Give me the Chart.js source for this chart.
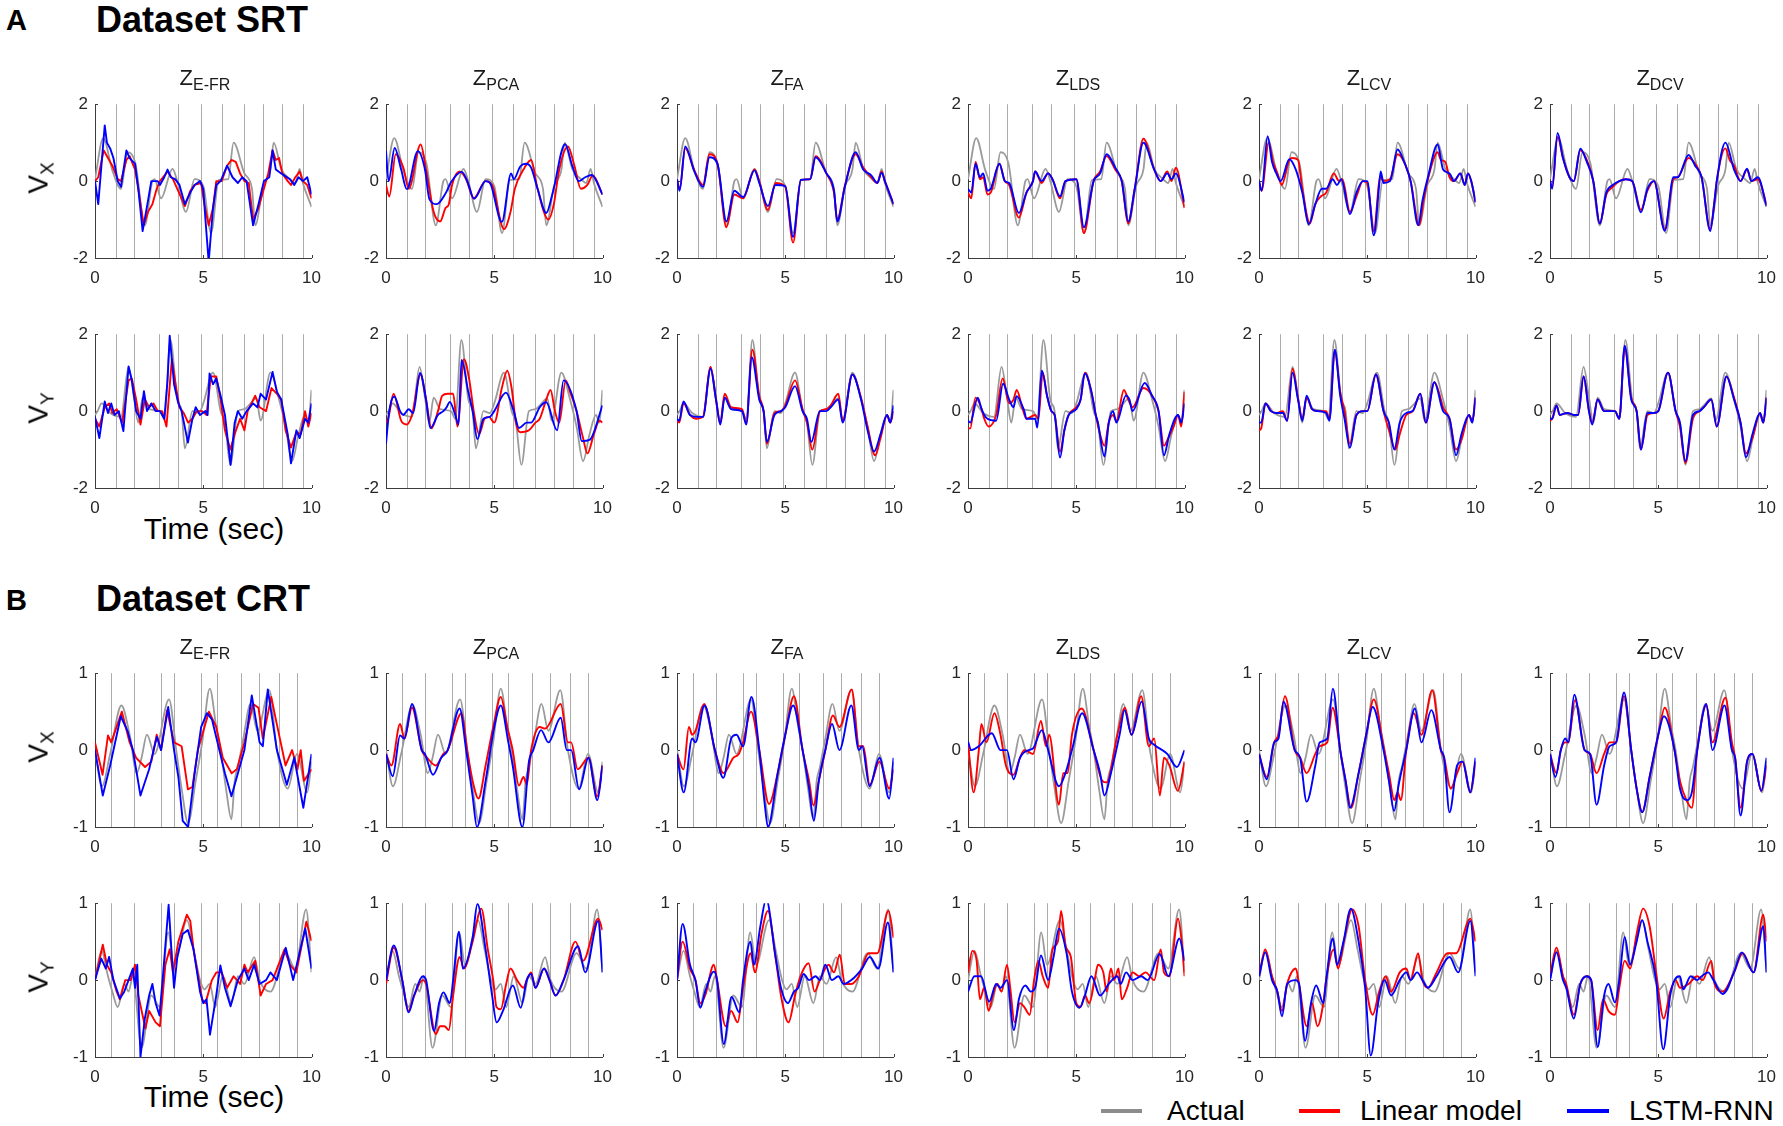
<!DOCTYPE html>
<html lang="en">
<head>
<meta charset="UTF-8">
<title>Velocity decoding SRT / CRT</title>
<script src="https://cdn.jsdelivr.net/npm/chart.js"></script>
<style>
    body {
        margin: 0;
        width: 1783px;
        height: 1126px;
        position: relative;
        overflow: hidden;
        background: #fff;
        font-family: "Liberation Sans", Arial, Helvetica, sans-serif;
        color: #000;
    }
    .box { position: absolute; }
    .letter { position: absolute; font-size: 29px; font-weight: bold; line-height: 29px; }
    .dset { position: absolute; font-size: 36px; font-weight: bold; line-height: 36px; }
    .ttl { position: absolute; font-size: 22px; line-height: 22px; white-space: nowrap; transform: translateX(-50%); color: #1a1a1a; }
    .ttl .sb { font-size: 16px; position: relative; top: 5px; }
    .vlab { position: absolute; font-size: 28px; line-height: 28px; white-space: nowrap; transform: translate(-50%, -50%) rotate(-90deg); }
    .vlab .sb { font-size: 19px; position: relative; top: 6px; }
    .tlab { position: absolute; font-size: 30px; line-height: 30px; white-space: nowrap; transform: translate(-50%, -50%); }
    .leg { position: absolute; font-size: 28px; line-height: 28px; white-space: nowrap; }
    .sw { position: absolute; height: 4px; }
</style>
</head>
<body>
<div class="letter" style="left:6px; top:6px;">A</div>
<div class="dset" style="left:96px; top:2px;">Dataset SRT</div>
<div class="letter" style="left:6px; top:586px;">B</div>
<div class="dset" style="left:96px; top:581px;">Dataset CRT</div>
<div class="tlab" style="left:214px; top:529px;">Time (sec)</div>
<div class="tlab" style="left:214px; top:1097px;">Time (sec)</div>

<div class="sw" style="left:1101px; top:1109px; width:41px; background:#8c8c8c;"></div>
<div class="leg" style="left:1167px; top:1097px;">Actual</div>
<div class="sw" style="left:1299px; top:1109px; width:41px; background:#ff0000;"></div>
<div class="leg" style="left:1360px; top:1097px;">Linear model</div>
<div class="sw" style="left:1567px; top:1109px; width:42px; background:#0000ff;"></div>
<div class="leg" style="left:1629px; top:1097px;">LSTM-RNN</div>

<script>
    // latent-state methods, one column each
    const methods = ['E-FR', 'PCA', 'FA', 'LDS', 'LCV', 'DCV'];

    // trial boundaries (sec)
    const srtBounds = [0.97, 1.8, 2.95, 3.83, 4.88, 5.85, 6.87, 7.75, 8.63, 9.6];
    const crtBounds = [0.72, 1.8, 3.03, 3.64, 4.88, 5.65, 6.75, 7.58, 8.48, 9.32];

    // ---- Dataset SRT, V_X  ([time, value])
    const srtVxActual = [[0,0.05],[0.38,1.12],[0.8,0.28],[1.2,-0.2],[1.5,0.75],[1.87,0.45],[2.3,-1.15],[2.65,0.0],[2.75,0.05],[3.05,-0.45],[3.58,0.32],[3.8,0.0],[4.2,-0.8],[4.6,0.05],[5.0,-0.13],[5.36,-1.35],[5.72,0.03],[6.15,0.05],[6.4,1.0],[6.9,0.2],[7.25,-0.2],[7.4,-1.15],[7.76,-0.13],[8.1,0.3],[8.25,1.0],[8.6,0.32],[8.97,0.07],[9.25,-0.05],[9.45,0.32],[9.6,-0.05],[10,-0.67]];
    const srtVxLinear = [
        // E-FR
        [[0,0],[0.15,0.1],[0.4,0.8],[0.6,0.6],[0.8,0.4],[1.05,0.05],[1.2,0.0],[1.45,0.55],[1.6,0.65],[1.85,0.3],[2.0,-0.2],[2.25,-1.15],[2.45,-0.8],[2.65,-0.6],[2.85,-0.2],[3.0,0.0],[3.35,0.25],[3.6,0.05],[3.8,-0.2],[4.15,-0.65],[4.4,-0.25],[4.6,-0.1],[4.9,-0.05],[5.05,-0.6],[5.25,-1.15],[5.45,-0.7],[5.6,0.0],[5.85,0.0],[6.1,0.4],[6.3,0.55],[6.5,0.5],[6.7,0.2],[6.9,0.0],[7.1,-0.05],[7.3,-1.0],[7.55,-0.7],[7.8,-0.2],[8.0,0.2],[8.2,0.8],[8.35,0.55],[8.5,0.6],[8.65,0.2],[8.9,0.0],[9.05,-0.1],[9.25,0.1],[9.45,0.25],[9.6,0.0],[9.8,-0.1],[10,-0.45]],
        // PCA
        [[0,-0.1],[0.15,-0.4],[0.45,0.7],[0.8,0.35],[1.05,-0.2],[1.6,0.95],[1.85,0.3],[2.2,-0.8],[2.5,-1.05],[2.75,-0.7],[2.9,-0.6],[3.05,-0.1],[3.4,0.25],[3.7,0.05],[4.05,-0.45],[4.6,0.0],[4.9,-0.1],[5.45,-1.25],[5.75,-0.8],[5.95,-0.2],[6.4,0.35],[6.7,0.55],[7.0,-0.2],[7.5,-1.0],[7.75,-0.6],[8.0,0.3],[8.4,0.9],[8.7,0.4],[9.0,-0.2],[9.3,-0.1],[9.55,0.15],[10,-0.35]],
        // FA
        [[0,0.05],[0.12,-0.2],[0.38,0.85],[0.8,0.28],[1.2,-0.1],[1.5,0.7],[1.87,0.45],[2.28,-1.2],[2.65,-0.35],[3.05,-0.45],[3.58,0.3],[3.8,0.0],[4.2,-0.75],[4.55,-0.05],[5.0,-0.15],[5.36,-1.6],[5.72,0.03],[6.15,0.05],[6.4,0.65],[6.9,0.2],[7.25,-0.3],[7.4,-1.0],[7.76,-0.1],[8.25,0.7],[8.6,0.35],[8.97,0.1],[9.25,-0.05],[9.45,0.25],[9.6,0.0],[10,-0.6]],
        // LDS
        [[0,-0.3],[0.15,-0.45],[0.35,0.5],[0.55,0.05],[0.7,0.1],[0.9,-0.35],[1.05,-0.3],[1.45,0.45],[1.7,0.0],[1.9,-0.1],[2.35,-0.95],[2.7,-0.3],[3.0,0.0],[3.1,0.25],[3.4,-0.05],[3.7,0.2],[3.9,0.05],[4.25,-0.45],[4.5,0.0],[5.0,0.05],[5.35,-1.35],[5.8,0.0],[6.1,0.25],[6.4,0.65],[6.8,0.3],[7.1,0.0],[7.4,-1.1],[7.7,-0.2],[8.1,1.1],[8.6,0.3],[8.9,0.0],[9.2,0.25],[9.4,0.0],[9.6,0.35],[10,-0.7]],
        // LCV
        [[0,0],[0.12,-0.25],[0.45,1.0],[0.65,0.5],[0.85,0.2],[1.05,-0.1],[1.4,0.55],[1.55,0.6],[1.8,0.55],[2.0,-0.2],[2.35,-1.1],[2.6,-0.6],[2.85,-0.4],[3.1,-0.3],[3.45,0.2],[3.7,0.0],[3.85,0.05],[4.2,-0.8],[4.5,-0.4],[4.8,0.0],[5.0,-0.05],[5.3,-1.3],[5.6,0.1],[5.75,0.0],[6.05,0.05],[6.4,0.7],[6.7,0.5],[7.0,0.0],[7.4,-1.15],[7.6,-0.5],[7.8,0.05],[8.25,0.75],[8.4,0.55],[8.6,0.5],[8.8,0.1],[9.0,0.0],[9.3,0.2],[9.5,-0.1],[9.65,0.2],[9.8,0.0],[10,-0.55]],
        // DCV
        [[0,0],[0.1,-0.15],[0.35,1.15],[0.6,0.6],[0.9,0.1],[1.1,0.0],[1.4,0.8],[1.7,0.55],[2.0,0.0],[2.3,-1.1],[2.6,-0.35],[2.9,-0.15],[3.2,0.0],[3.5,0.05],[3.8,0.0],[4.2,-0.75],[4.5,-0.25],[4.8,0.0],[5.3,-1.25],[5.7,0.05],[5.9,0.1],[6.4,0.6],[6.7,0.45],[7.0,0.1],[7.4,-1.25],[7.6,-0.5],[7.7,0.0],[8.1,0.85],[8.3,0.55],[8.5,0.4],[8.8,0.0],[9.1,0.3],[9.3,0.0],[9.6,0.05],[10,-0.6]]
    ];
    const srtVxLstm = [
        // E-FR
        [[0,0],[0.15,-0.6],[0.45,1.45],[0.55,1.0],[0.7,0.85],[0.85,0.6],[1.05,0.0],[1.2,-0.15],[1.45,0.8],[1.6,0.6],[1.85,0.45],[2.0,-0.2],[2.2,-1.3],[2.45,-0.5],[2.6,0.0],[2.9,0.0],[3.0,-0.1],[3.2,0.1],[3.35,0.3],[3.5,0.1],[3.7,0.05],[3.9,-0.1],[4.15,-0.6],[4.4,-0.3],[4.6,-0.1],[4.85,0.0],[5.0,-0.2],[5.1,-1.0],[5.25,-2.1],[5.45,-0.7],[5.6,-0.1],[5.8,0.0],[6.1,0.4],[6.35,0.1],[6.6,-0.05],[6.8,0.1],[7.0,0.0],[7.3,-1.15],[7.55,-0.6],[7.8,0.0],[8.05,0.1],[8.2,0.8],[8.35,0.3],[8.6,0.2],[9.0,0.05],[9.2,-0.1],[9.4,0.1],[9.6,0.0],[9.8,0.1],[10,-0.35]],
        // PCA
        [[0,0.78],[0.12,0.0],[0.4,0.86],[0.7,0.3],[0.96,-0.21],[1.47,0.78],[1.8,0.3],[2.0,-0.46],[2.34,-0.6],[2.77,-0.3],[3.0,-0.03],[3.5,0.24],[3.75,0.0],[4.07,-0.46],[4.6,0.0],[4.8,-0.05],[5.35,-1.06],[5.78,0.2],[5.9,0.05],[6.2,0.38],[6.45,0.45],[6.7,0.35],[7.0,-0.2],[7.4,-0.83],[7.7,-0.3],[8.27,0.96],[8.6,0.4],[8.9,0.0],[9.2,0.1],[9.5,0.16],[10,-0.35]],
        // FA
        [[0,0.05],[0.12,-0.25],[0.38,0.9],[0.8,0.25],[1.2,-0.15],[1.5,0.62],[1.87,0.45],[2.28,-1.05],[2.65,-0.25],[3.05,-0.42],[3.58,0.28],[3.8,-0.05],[4.2,-0.65],[4.55,-0.1],[5.0,-0.13],[5.36,-1.45],[5.72,0.03],[6.15,0.05],[6.4,0.62],[6.9,0.2],[7.25,-0.25],[7.4,-1.05],[7.76,-0.13],[8.25,0.75],[8.6,0.3],[8.97,0.15],[9.25,-0.05],[9.45,0.22],[9.6,0.0],[10,-0.6]],
        // LDS
        [[0,-0.2],[0.15,-0.3],[0.35,0.45],[0.55,0.1],[0.7,0.2],[0.9,-0.25],[1.05,-0.2],[1.45,0.45],[1.7,0.0],[1.9,-0.05],[2.35,-0.83],[2.7,-0.3],[3.0,0.0],[3.1,0.25],[3.4,0.0],[3.7,0.2],[3.9,0.05],[4.25,-0.4],[4.5,0.0],[5.0,0.05],[5.35,-1.2],[5.8,0.0],[6.1,0.2],[6.4,0.7],[6.8,0.35],[7.1,0.0],[7.4,-1.05],[7.7,-0.2],[8.1,1.0],[8.6,0.3],[8.9,0.0],[9.2,0.2],[9.4,0.05],[9.6,0.2],[10,-0.55]],
        // LCV
        [[0,0],[0.12,-0.25],[0.4,1.17],[0.6,0.5],[0.8,0.2],[1.0,0.0],[1.4,0.57],[1.7,0.3],[2.0,-0.3],[2.3,-1.12],[2.6,-0.6],[2.9,-0.2],[3.1,-0.2],[3.4,0.05],[3.6,-0.1],[3.8,0.05],[4.2,-0.86],[4.5,-0.3],[4.8,0.0],[5.0,0.0],[5.3,-1.41],[5.55,-0.1],[5.62,0.25],[5.75,-0.05],[6.05,0.0],[6.4,0.82],[6.7,0.5],[7.0,0.0],[7.35,-1.15],[7.55,-0.5],[7.8,0.1],[8.25,0.95],[8.5,0.3],[8.8,0.2],[9.0,0.0],[9.3,0.2],[9.5,-0.1],[9.65,0.2],[9.8,0.0],[10,-0.55]],
        // DCV
        [[0,0],[0.1,-0.2],[0.35,1.25],[0.6,0.6],[0.9,0.1],[1.1,0.0],[1.4,0.84],[1.7,0.5],[2.0,0.0],[2.3,-1.1],[2.6,-0.3],[2.9,-0.1],[3.2,0.0],[3.5,0.05],[3.8,0.0],[4.2,-0.81],[4.5,-0.2],[4.8,0.0],[5.3,-1.29],[5.7,0.1],[5.9,0.1],[6.4,0.68],[6.7,0.4],[7.0,0.1],[7.4,-1.3],[7.6,-0.5],[7.7,0.0],[8.1,1.0],[8.5,0.3],[8.8,0.0],[9.1,0.32],[9.3,0.0],[9.6,0.1],[10,-0.65]]
    ];

    // ---- Dataset SRT, V_Y
    const srtVyActual = [[0,-0.1],[0.12,0.0],[0.3,0.2],[0.7,-0.05],[1.2,-0.15],[1.55,1.15],[1.8,0.35],[2.0,-0.3],[2.2,0.35],[2.5,0.05],[3.0,0.0],[3.2,-0.2],[3.48,1.85],[3.8,0.3],[4.0,0.0],[4.15,-0.97],[4.5,0.0],[4.8,-0.05],[5.0,0.2],[5.45,1.0],[5.8,0.0],[6.0,-0.3],[6.25,-1.4],[6.6,0.0],[6.9,0.05],[7.1,0.15],[7.45,0.33],[7.65,-0.25],[8.1,1.0],[8.5,0.3],[8.8,-0.4],[9.1,-1.3],[9.4,-0.6],[9.7,-0.1],[9.85,-0.3],[10,0.55]];
    const srtVyLinear = [
        // E-FR
        [[0,-0.2],[0.2,-0.4],[0.45,0.1],[0.65,0.2],[0.8,-0.05],[1.0,0.05],[1.25,-0.3],[1.55,0.8],[1.7,0.85],[1.9,0.3],[2.1,-0.35],[2.3,0.3],[2.5,0.1],[2.7,0.2],[2.9,0.0],[3.1,0.0],[3.3,-0.4],[3.55,1.35],[3.75,0.6],[3.9,0.1],[4.1,-0.05],[4.3,-0.3],[4.5,-0.2],[4.7,0.0],[4.95,0.0],[5.15,-0.1],[5.35,0.9],[5.6,0.9],[5.8,0.3],[6.0,-0.5],[6.25,-1.0],[6.45,-0.6],[6.7,-0.2],[6.9,-0.5],[7.05,0.0],[7.4,0.4],[7.6,0.1],[7.9,0.0],[8.15,0.6],[8.4,0.45],[8.6,0.3],[8.8,-0.5],[9.05,-0.95],[9.3,-0.55],[9.5,-0.6],[9.7,0.0],[9.85,-0.4],[10,-0.05]],
        // PCA
        [[0,-0.3],[0.1,-0.2],[0.35,0.45],[0.7,-0.25],[0.95,-0.35],[1.2,-0.1],[1.6,0.95],[1.85,0.3],[2.1,-0.45],[2.4,0.0],[2.6,0.4],[2.85,0.45],[3.1,0.45],[3.3,-0.4],[3.6,1.35],[3.85,0.8],[4.05,0.0],[4.3,-0.6],[4.55,-0.2],[4.75,-0.15],[5.0,-0.3],[5.35,0.6],[5.6,1.05],[5.8,0.6],[6.0,-0.3],[6.2,-0.55],[6.6,-0.5],[6.9,-0.3],[7.1,-0.2],[7.4,0.3],[7.6,0.55],[7.8,0.0],[8.0,-0.3],[8.3,0.8],[8.5,0.5],[8.8,0.0],[9.1,-0.7],[9.3,-1.1],[9.6,-0.6],[9.85,-0.25],[10,-0.3]],
        // FA
        [[0,-0.25],[0.1,-0.3],[0.3,0.2],[0.6,-0.1],[0.9,-0.2],[1.2,-0.15],[1.55,1.15],[1.8,0.3],[2.0,-0.3],[2.2,0.45],[2.5,0.1],[3.0,0.05],[3.2,-0.3],[3.48,1.6],[3.8,0.4],[4.0,0.0],[4.15,-0.85],[4.5,-0.05],[4.8,0.0],[5.0,0.15],[5.45,0.8],[5.8,0.05],[6.0,-0.3],[6.25,-1.0],[6.6,0.0],[6.9,0.05],[7.1,0.15],[7.45,0.45],[7.65,-0.25],[8.1,0.95],[8.5,0.35],[8.8,-0.4],[9.15,-1.15],[9.4,-0.7],[9.7,-0.1],[9.85,-0.3],[10,0.0]],
        // LDS
        [[0,-0.45],[0.1,-0.45],[0.35,0.35],[0.6,0.1],[0.75,-0.2],[0.95,-0.4],[1.3,-0.1],[1.6,0.85],[1.9,0.2],[2.1,0.3],[2.25,0.55],[2.5,0.1],[2.7,-0.2],[3.1,-0.1],[3.25,-0.2],[3.45,1.0],[3.65,0.4],[3.85,0.0],[4.0,-0.1],[4.25,-1.05],[4.45,-0.5],[4.65,-0.1],[5.0,0.1],[5.2,0.3],[5.4,1.0],[5.7,0.5],[5.9,-0.1],[6.05,-0.5],[6.3,-0.9],[6.5,-0.3],[6.7,-0.1],[6.85,-0.25],[7.2,0.55],[7.4,0.3],[7.6,0.1],[8.1,0.6],[8.3,0.55],[8.5,0.4],[8.8,0.0],[9.05,-0.9],[9.25,-0.7],[9.5,-0.4],[9.7,-0.1],[9.85,-0.4],[10,0.5]],
        // LCV
        [[0,-0.5],[0.1,-0.45],[0.3,0.2],[0.55,0.0],[0.8,-0.05],[1.1,0.0],[1.3,-0.25],[1.55,1.1],[1.8,0.35],[2.0,-0.2],[2.2,0.35],[2.45,0.05],[2.7,0.0],[3.1,0.0],[3.25,-0.2],[3.5,1.55],[3.75,0.5],[3.95,0.0],[4.2,-0.85],[4.5,-0.1],[4.8,0.0],[5.0,0.0],[5.4,0.95],[5.75,0.0],[6.0,-0.5],[6.3,-1.0],[6.5,-0.6],[6.8,-0.1],[7.1,0.0],[7.45,0.45],[7.7,-0.3],[8.1,0.75],[8.3,0.5],[8.5,0.1],[8.8,-0.2],[9.1,-1.0],[9.35,-0.75],[9.7,-0.1],[9.85,-0.25],[10,0.35]],
        // DCV
        [[0,-0.25],[0.1,-0.2],[0.3,0.15],[0.45,-0.1],[0.8,-0.05],[1.1,-0.1],[1.3,-0.1],[1.55,0.9],[1.8,0.0],[1.95,-0.3],[2.2,0.3],[2.5,0.0],[3.0,0.0],[3.2,-0.2],[3.45,1.65],[3.75,0.35],[4.0,0.0],[4.2,-1.0],[4.5,-0.1],[4.8,-0.05],[5.0,0.0],[5.45,1.0],[5.8,0.0],[6.0,-0.4],[6.25,-1.35],[6.6,-0.2],[6.9,0.0],[7.1,0.1],[7.45,0.3],[7.7,-0.4],[8.15,0.9],[8.5,0.35],[8.8,-0.3],[9.05,-1.1],[9.35,-0.7],[9.7,-0.05],[9.85,-0.3],[10,0.35]]
    ];
    const srtVyLstm = [
        // E-FR
        [[0,-0.15],[0.2,-0.7],[0.45,0.25],[0.6,-0.05],[0.75,0.2],[0.9,-0.1],[1.1,0.0],[1.31,-0.52],[1.55,1.16],[1.7,0.8],[1.9,0.0],[2.1,-0.2],[2.26,0.52],[2.4,0.0],[2.6,0.2],[2.8,0.0],[3.0,0.0],[3.2,-0.2],[3.35,0.8],[3.45,1.96],[3.65,0.7],[3.85,0.2],[4.0,0.0],[4.29,-0.82],[4.5,-0.2],[4.65,0.1],[4.85,-0.1],[5.1,0.0],[5.2,-0.1],[5.29,0.98],[5.45,0.7],[5.6,0.85],[5.8,0.4],[6.0,-0.1],[6.26,-1.4],[6.45,-0.3],[6.6,0.0],[6.8,-0.2],[7.0,0.0],[7.3,0.2],[7.5,0.1],[7.65,0.45],[7.9,0.3],[8.2,1.02],[8.4,0.5],[8.6,0.3],[8.9,-0.6],[9.05,-1.36],[9.3,-0.5],[9.45,-0.7],[9.7,-0.2],[9.85,-0.3],[10,0.2]],
        // PCA
        [[0,-0.85],[0.15,0.0],[0.38,0.38],[0.65,0.0],[0.8,-0.1],[1.05,0.05],[1.25,-0.05],[1.57,0.99],[1.85,0.3],[2.05,-0.44],[2.4,-0.1],[2.65,0.0],[2.8,0.1],[2.94,0.24],[3.2,-0.1],[3.35,-0.35],[3.49,1.33],[3.8,0.5],[4.0,0.0],[4.22,-0.73],[4.5,-0.2],[4.8,-0.15],[5.0,0.0],[5.54,0.48],[5.9,0.0],[6.14,-0.44],[6.5,-0.3],[6.7,-0.3],[7.1,0.1],[7.4,0.23],[7.9,-0.5],[8.2,0.8],[8.8,0.0],[9.04,-0.78],[9.4,-0.75],[10,0.15]],
        // FA
        [[0,-0.2],[0.1,-0.25],[0.3,0.25],[0.6,-0.1],[0.9,-0.15],[1.2,-0.15],[1.55,1.1],[1.8,0.3],[2.0,-0.35],[2.2,0.35],[2.5,0.05],[3.0,0.0],[3.2,-0.35],[3.45,1.4],[3.8,0.3],[4.0,0.0],[4.15,-0.8],[4.5,-0.1],[4.8,0.0],[5.0,0.1],[5.45,0.65],[5.8,0.0],[6.0,-0.2],[6.2,-0.8],[6.6,0.0],[6.9,0.0],[7.1,0.1],[7.45,0.3],[7.65,-0.3],[8.1,0.95],[8.5,0.3],[8.8,-0.5],[9.1,-1.05],[9.4,-0.6],[9.7,-0.1],[9.85,-0.3],[10,0.15]],
        // LDS
        [[0,-0.25],[0.1,-0.3],[0.45,0.35],[0.6,0.1],[0.75,-0.1],[0.9,-0.2],[1.3,-0.25],[1.62,0.71],[1.9,0.3],[2.1,0.1],[2.24,0.39],[2.6,0.0],[2.7,-0.2],[3.1,-0.2],[3.2,-0.43],[3.41,1.06],[3.65,0.4],[3.85,0.0],[4.0,-0.1],[4.25,-1.21],[4.45,-0.5],[4.65,-0.1],[5.0,0.05],[5.2,0.3],[5.39,0.98],[5.7,0.5],[5.9,-0.1],[6.0,-0.3],[6.3,-1.18],[6.5,-0.3],[6.7,0.0],[6.85,-0.3],[7.3,0.41],[7.45,0.3],[7.6,0.0],[8.16,0.73],[8.5,0.4],[8.8,0.0],[9.05,-1.15],[9.3,-0.6],[9.7,-0.1],[9.85,-0.3],[10,0.2]],
        // LCV
        [[0,-0.3],[0.1,-0.3],[0.3,0.2],[0.55,0.0],[0.8,-0.05],[1.1,-0.05],[1.3,-0.25],[1.55,1.0],[1.8,0.3],[2.0,-0.25],[2.2,0.4],[2.45,0.05],[2.7,0.0],[3.1,-0.05],[3.25,-0.25],[3.5,1.6],[3.75,0.4],[3.95,-0.2],[4.2,-0.95],[4.5,-0.1],[4.8,0.0],[5.0,0.0],[5.4,0.95],[5.75,0.0],[6.0,-0.3],[6.25,-1.0],[6.5,-0.3],[6.8,-0.05],[7.1,0.0],[7.45,0.45],[7.7,-0.3],[8.1,0.75],[8.5,0.0],[8.8,-0.2],[9.1,-1.15],[9.35,-0.6],[9.7,-0.1],[9.85,-0.3],[10,0.35]],
        // DCV
        [[0,-0.2],[0.1,-0.2],[0.3,0.15],[0.45,-0.1],[0.8,-0.05],[1.1,-0.1],[1.3,-0.1],[1.55,0.9],[1.8,0.0],[1.95,-0.35],[2.2,0.3],[2.5,0.0],[3.0,0.0],[3.2,-0.2],[3.45,1.7],[3.75,0.3],[4.0,0.0],[4.2,-1.0],[4.5,-0.05],[4.8,-0.05],[5.0,0.0],[5.45,1.0],[5.8,0.0],[6.0,-0.3],[6.25,-1.3],[6.6,-0.1],[6.9,0.0],[7.1,0.1],[7.45,0.3],[7.7,-0.4],[8.15,0.9],[8.5,0.3],[8.8,-0.3],[9.05,-1.2],[9.35,-0.6],[9.7,-0.05],[9.85,-0.3],[10,0.35]]
    ];

    // ---- Dataset CRT, V_X
    const crtVxActual = [[0,0.0],[0.32,-0.47],[0.7,-0.05],[1.22,0.58],[1.6,0.2],[1.93,-0.3],[2.15,-0.1],[2.4,0.2],[2.75,-0.05],[3.42,0.66],[3.75,0.0],[4.0,-0.5],[4.3,-0.95],[4.65,-0.4],[4.95,0.1],[5.3,0.8],[5.6,0.3],[5.8,0.0],[6.05,-0.5],[6.3,-0.9],[6.45,-0.4],[6.6,-0.22],[6.85,0.15],[7.18,0.6],[7.5,0.25],[8.05,0.78],[8.4,0.0],[8.9,-0.5],[9.33,-0.05],[9.8,-0.55],[10,-0.15]];
    const crtVxLinear = [
        // E-FR
        [[0,0.1],[0.35,-0.32],[0.6,0.19],[0.75,0.1],[1.24,0.5],[1.6,0.1],[1.9,-0.1],[2.31,-0.22],[2.6,-0.15],[2.85,0.2],[3.05,0.0],[3.33,0.52],[3.65,0.1],[4.0,0.05],[4.29,-0.51],[4.5,-0.48],[4.75,0.0],[5.26,0.5],[5.6,0.3],[5.9,-0.1],[6.31,-0.3],[6.55,-0.25],[6.9,0.1],[7.3,0.6],[7.55,0.55],[7.75,0.15],[8.14,0.69],[8.35,0.4],[8.8,-0.2],[9.1,0.0],[9.35,-0.25],[9.5,0.0],[9.65,-0.4],[10,-0.25]],
        // PCA
        [[0,-0.05],[0.25,-0.2],[0.65,0.34],[0.85,0.15],[1.2,0.55],[1.65,0.0],[1.9,-0.1],[2.3,-0.2],[2.65,-0.05],[2.85,0.0],[3.49,0.48],[3.75,0.0],[4.0,-0.4],[4.27,-0.63],[4.6,-0.2],[4.95,0.3],[5.3,0.69],[5.6,0.3],[5.85,0.0],[6.14,-0.46],[6.35,-0.35],[6.5,-0.45],[6.7,0.0],[7.1,0.3],[7.35,0.28],[8.07,0.6],[8.4,0.1],[8.55,0.1],[8.85,-0.25],[9.35,-0.1],[9.75,-0.6],[10,-0.2]],
        // FA
        [[0,-0.05],[0.3,-0.25],[0.55,0.3],[0.7,0.2],[0.85,0.25],[1.25,0.6],[1.75,0.0],[2.15,-0.3],[2.6,-0.1],[2.85,-0.05],[3.05,0.1],[3.42,0.5],[3.8,0.0],[4.25,-0.7],[4.65,-0.3],[5.0,0.2],[5.4,0.7],[5.8,0.0],[6.1,-0.4],[6.3,-0.72],[6.55,-0.4],[6.85,0.0],[7.2,0.45],[7.5,0.3],[8.07,0.79],[8.4,0.05],[8.6,0.05],[8.9,-0.45],[9.35,-0.15],[9.8,-0.5],[10,-0.25]],
        // LDS
        [[0,0.1],[0.26,-0.55],[0.5,0.0],[0.62,0.34],[0.85,0.1],[1.22,0.48],[1.5,0.2],[1.75,-0.2],[2.1,-0.32],[2.4,-0.1],[2.6,0.0],[3.0,-0.05],[3.37,0.38],[3.6,0.05],[3.75,0.2],[4.2,-0.71],[4.4,-0.3],[4.6,-0.3],[4.8,0.2],[5.25,0.54],[5.8,0.0],[6.2,-0.4],[6.4,-0.42],[6.9,0.2],[7.25,0.55],[7.55,0.2],[8.0,0.7],[8.35,0.05],[8.6,0.15],[8.86,-0.59],[9.05,-0.1],[9.3,-0.2],[9.69,-0.53],[10,-0.15]],
        // LCV
        [[0,-0.05],[0.36,-0.35],[0.7,0.1],[0.9,0.2],[1.2,0.7],[1.65,0.0],[1.9,-0.1],[2.2,-0.3],[2.6,-0.05],[2.8,0.05],[3.15,0.1],[3.4,0.55],[3.75,0.0],[4.0,-0.4],[4.25,-0.75],[4.6,-0.3],[4.95,0.2],[5.3,0.66],[5.75,0.05],[6.0,-0.3],[6.25,-0.65],[6.4,-0.55],[6.55,-0.65],[6.8,0.0],[7.15,0.48],[7.5,0.2],[8.0,0.78],[8.4,0.0],[8.55,-0.1],[8.85,-0.5],[9.15,-0.3],[9.4,-0.15],[9.76,-0.55],[10,-0.15]],
        // DCV
        [[0,-0.05],[0.3,-0.3],[0.5,0.0],[0.7,0.1],[0.85,0.1],[1.15,0.65],[1.6,0.0],[1.85,-0.05],[2.15,-0.3],[2.5,-0.05],[2.75,0.1],[3.05,0.1],[3.42,0.7],[3.75,0.0],[4.0,-0.5],[4.26,-0.8],[4.6,-0.35],[5.0,0.2],[5.3,0.55],[5.75,0.0],[6.0,-0.4],[6.3,-0.65],[6.55,-0.75],[6.8,0.0],[7.22,0.58],[7.5,0.1],[8.1,0.68],[8.4,0.1],[8.55,-0.1],[8.8,-0.75],[9.1,-0.15],[9.35,-0.05],[9.76,-0.53],[10,-0.2]]
    ];
    const crtVxLstm = [
        // E-FR
        [[0,0.0],[0.36,-0.59],[0.7,-0.2],[1.19,0.44],[1.5,0.25],[1.75,0.0],[2.1,-0.59],[2.5,-0.25],[2.75,0.05],[2.86,0.17],[3.05,0.0],[3.38,0.56],[3.65,0.0],[3.85,-0.35],[4.05,-0.92],[4.3,-1.0],[4.6,-0.3],[4.9,0.3],[5.17,0.48],[5.4,0.4],[5.7,0.05],[6.0,-0.3],[6.3,-0.6],[6.6,-0.3],[6.9,0.0],[7.24,0.71],[7.6,0.1],[7.75,0.05],[7.98,0.79],[8.4,0.0],[8.86,-0.45],[9.2,-0.1],[9.62,-0.75],[10,-0.05]],
        // PCA
        [[0,-0.05],[0.31,-0.34],[0.65,0.19],[0.85,0.15],[1.2,0.6],[1.65,0.0],[1.8,-0.05],[2.17,-0.32],[2.55,-0.1],[2.85,0.0],[3.4,0.54],[3.7,0.0],[4.0,-0.6],[4.2,-1.0],[4.6,-0.4],[5.0,0.3],[5.3,0.58],[5.65,0.1],[5.85,-0.2],[6.3,-1.0],[6.6,-0.15],[6.8,0.0],[7.16,0.26],[7.5,0.1],[8.07,0.42],[8.35,0.0],[8.55,0.0],[8.92,-0.51],[9.35,-0.1],[9.76,-0.65],[10,-0.2]],
        // FA
        [[0,-0.05],[0.31,-0.55],[0.7,0.15],[0.85,0.1],[1.27,0.58],[1.75,0.0],[2.14,-0.36],[2.5,0.15],[2.75,0.2],[3.05,0.05],[3.44,0.69],[3.8,0.0],[4.05,-0.7],[4.2,-1.0],[4.65,-0.3],[5.0,0.2],[5.36,0.58],[5.8,0.0],[6.1,-0.5],[6.32,-0.92],[6.55,-0.4],[6.85,0.0],[7.16,0.34],[7.5,0.0],[8.05,0.58],[8.4,0.0],[8.55,0.05],[8.89,-0.47],[9.35,-0.1],[9.8,-0.63],[10,-0.1]],
        // LDS
        [[0,0.11],[0.15,0.0],[0.5,0.05],[1.1,0.22],[1.5,0.0],[1.8,0.0],[2.1,-0.38],[2.4,-0.1],[2.8,0.0],[3.0,0.02],[3.41,0.26],[3.7,0.0],[4.05,-0.4],[4.2,-0.47],[4.5,-0.3],[4.8,0.0],[5.27,0.48],[5.8,0.0],[6.1,-0.3],[6.3,-0.59],[6.6,-0.3],[7.0,0.2],[7.23,0.52],[7.55,0.2],[8.02,0.63],[8.35,0.15],[8.6,0.07],[9.2,-0.05],[9.65,-0.22],[10,0.0]],
        // LCV
        [[0,-0.05],[0.36,-0.38],[0.7,0.1],[0.9,0.15],[1.13,0.63],[1.65,0.0],[1.9,-0.1],[2.2,-0.67],[2.6,-0.2],[2.8,0.1],[3.15,0.15],[3.41,0.8],[3.75,0.0],[4.0,-0.4],[4.2,-0.75],[4.6,-0.3],[4.95,0.2],[5.25,0.56],[5.75,0.0],[6.0,-0.4],[6.24,-0.79],[6.45,-0.45],[6.8,0.0],[7.2,0.54],[7.5,0.1],[7.96,0.52],[8.4,0.0],[8.55,-0.1],[8.8,-0.81],[9.15,-0.2],[9.4,-0.15],[9.76,-0.55],[10,-0.1]],
        // DCV
        [[0,-0.05],[0.25,-0.35],[0.5,0.0],[0.7,0.15],[0.85,0.1],[1.12,0.72],[1.6,0.0],[1.85,-0.05],[2.15,-0.71],[2.5,-0.2],[2.75,0.05],[3.05,0.1],[3.42,0.75],[3.75,0.0],[4.0,-0.5],[4.26,-0.81],[4.6,-0.35],[5.0,0.2],[5.26,0.44],[5.75,0.0],[6.0,-0.5],[6.34,-0.65],[6.55,-0.55],[6.8,0.0],[7.22,0.6],[7.5,0.0],[8.06,0.58],[8.4,0.0],[8.55,-0.1],[8.8,-0.85],[9.1,-0.15],[9.35,-0.05],[9.76,-0.53],[10,-0.1]]
    ];

    // ---- Dataset CRT, V_Y
    const crtVyActual = [[0,0.0],[0.3,0.38],[0.6,0.05],[0.8,-0.15],[1.05,-0.35],[1.35,-0.05],[1.55,-0.15],[1.75,0.05],[2.15,-0.88],[2.6,-0.2],[3.0,-0.35],[3.38,0.62],[3.65,0.2],[4.25,0.78],[4.55,0.4],[4.85,0.0],[5.05,-0.12],[5.3,-0.05],[5.55,-0.35],[5.9,0.05],[6.3,-0.3],[6.6,0.05],[6.9,-0.05],[7.35,0.3],[7.6,0.0],[8.1,-0.15],[8.8,0.35],[9.25,0.15],[9.75,0.92],[10,0.1]];
    const crtVyLinear = [
        // E-FR
        [[0,0.0],[0.36,0.46],[0.55,0.2],[0.75,0.1],[1.0,-0.15],[1.15,-0.25],[1.4,0.0],[1.65,0.0],[1.85,0.2],[2.0,-0.2],[2.33,-0.63],[2.5,-0.4],[2.8,-0.55],[3.0,-0.6],[3.25,0.2],[3.45,0.4],[3.6,0.1],[3.85,0.5],[4.24,0.85],[4.4,0.77],[4.55,0.4],[4.95,-0.25],[5.1,-0.3],[5.4,0.0],[5.6,0.1],[5.85,0.1],[6.1,-0.1],[6.4,0.05],[6.7,-0.05],[6.9,0.2],[7.05,0.1],[7.4,0.25],[7.65,-0.2],[7.9,-0.05],[8.2,0.0],[8.75,0.4],[9.0,0.2],[9.3,0.1],[9.76,0.76],[10,0.51]],
        // PCA
        [[0,-0.05],[0.36,0.42],[0.75,0.0],[1.04,-0.4],[1.3,-0.2],[1.7,0.0],[1.85,-0.05],[2.3,-0.7],[2.5,-0.6],[2.7,-0.6],[2.9,-0.65],[3.1,-0.2],[3.4,0.3],[3.6,0.15],[4.0,0.5],[4.4,0.93],[4.7,0.4],[4.95,0.0],[5.1,-0.35],[5.3,-0.38],[5.55,-0.05],[5.75,0.15],[6.05,0.0],[6.35,-0.1],[6.5,0.0],[6.7,0.1],[6.9,-0.1],[7.3,0.15],[7.55,0.0],[7.83,-0.2],[8.2,0.0],[8.75,0.5],[9.1,0.25],[9.8,0.8],[10,0.65]],
        // FA
        [[0,0.0],[0.26,0.5],[0.6,0.15],[0.85,0.0],[1.08,-0.3],[1.3,-0.2],[1.7,0.2],[1.85,0.0],[2.25,-0.6],[2.5,-0.4],[2.8,-0.55],[3.05,-0.1],[3.4,0.35],[3.6,0.1],[3.9,0.6],[4.2,0.9],[4.55,0.3],[4.8,-0.2],[5.15,-0.55],[5.45,-0.2],[5.7,0.05],[6.08,0.22],[6.35,-0.15],[6.6,0.0],[7.0,0.2],[7.25,0.1],[7.52,0.33],[7.75,-0.05],[8.05,-0.05],[8.4,0.05],[8.85,0.35],[9.25,0.35],[9.77,0.9],[10,0.55]],
        // LDS
        [[0,0.1],[0.2,0.38],[0.4,0.25],[0.55,-0.25],[0.75,-0.1],[0.95,-0.4],[1.15,-0.2],[1.35,-0.05],[1.55,-0.15],[1.8,0.2],[1.95,-0.1],[2.15,-0.55],[2.4,-0.3],[2.6,-0.35],[2.85,-0.45],[3.05,0.0],[3.25,0.25],[3.45,0.05],[3.7,-0.1],[3.9,0.4],[4.15,0.5],[4.3,0.9],[4.5,0.45],[4.75,0.3],[5.0,-0.3],[5.2,-0.35],[5.4,-0.2],[5.6,-0.3],[5.85,0.0],[6.0,0.2],[6.25,0.1],[6.4,-0.15],[6.6,0.15],[6.75,0.0],[6.95,0.15],[7.1,-0.25],[7.35,-0.1],[7.6,0.1],[7.9,0.05],[8.2,0.1],[8.6,0.0],[8.9,0.4],[9.05,0.1],[9.3,0.05],[9.7,0.8],[9.85,0.55],[10,0.05]],
        // LCV
        [[0,0.05],[0.29,0.4],[0.6,0.05],[0.85,-0.15],[1.06,-0.4],[1.3,-0.05],[1.7,0.15],[1.85,-0.05],[2.2,-0.6],[2.45,-0.3],[2.7,-0.6],[2.97,-0.3],[3.1,0.0],[3.45,0.4],[3.65,0.15],[3.95,0.55],[4.3,0.92],[4.6,0.7],[4.9,0.0],[5.25,-0.45],[5.55,-0.15],[5.85,0.05],[6.1,-0.15],[6.5,0.1],[6.8,0.15],[7.0,0.0],[7.35,0.35],[7.55,0.0],[7.8,-0.1],[8.2,0.1],[8.7,0.35],[9.1,0.35],[9.76,0.8],[10,0.5]],
        // DCV
        [[0,0.05],[0.3,0.42],[0.6,0.05],[0.75,-0.05],[1.1,-0.45],[1.4,-0.05],[1.7,0.05],[1.9,0.0],[2.2,-0.65],[2.45,-0.25],[2.7,-0.4],[3.0,-0.45],[3.2,-0.1],[3.45,0.25],[3.7,0.15],[4.0,0.6],[4.3,0.93],[4.6,0.7],[4.9,0.1],[5.25,-0.5],[5.55,-0.15],[5.8,0.0],[6.0,-0.1],[6.4,-0.05],[6.8,0.05],[7.05,0.0],[7.45,0.25],[7.6,-0.05],[7.97,-0.15],[8.5,0.1],[8.9,0.35],[9.4,0.1],[9.85,0.85],[10,0.5]]
    ];
    const crtVyLstm = [
        // E-FR
        [[0,0.0],[0.29,0.28],[0.5,0.15],[0.65,0.3],[0.85,0.0],[1.15,-0.24],[1.35,-0.15],[1.55,0.0],[1.75,0.15],[1.85,-0.1],[1.95,0.2],[2.1,-1.0],[2.3,-0.5],[2.5,-0.2],[2.65,-0.05],[2.8,-0.3],[2.98,-0.46],[3.15,0.1],[3.4,0.98],[3.55,0.3],[3.65,-0.1],[3.8,0.3],[4.05,0.6],[4.29,0.65],[4.55,0.4],[4.85,-0.15],[5.0,-0.3],[5.15,-0.25],[5.31,-0.71],[5.6,-0.2],[5.79,0.19],[6.0,-0.1],[6.26,-0.34],[6.6,0.0],[6.9,0.15],[7.1,0.0],[7.35,0.2],[7.6,-0.05],[7.9,0.0],[8.1,0.1],[8.4,0.0],[8.81,0.42],[9.15,0.0],[9.71,0.67],[10,0.15]],
        // PCA
        [[0,0.0],[0.36,0.45],[0.75,0.0],[1.04,-0.42],[1.3,-0.2],[1.7,0.05],[1.85,0.0],[2.22,-0.66],[2.45,-0.3],[2.65,-0.16],[2.95,-0.3],[3.1,0.0],[3.37,0.63],[3.55,0.15],[4.0,0.55],[4.22,0.99],[4.6,0.4],[4.9,-0.2],[5.11,-0.55],[5.4,-0.4],[5.86,-0.07],[6.22,-0.36],[6.5,0.0],[6.7,0.08],[6.9,-0.1],[7.3,0.15],[7.55,0.0],[7.83,-0.2],[8.2,0.0],[8.87,0.44],[9.2,0.1],[9.8,0.77],[10,0.1]],
        // FA
        [[0,0.0],[0.26,0.73],[0.6,0.2],[0.85,0.0],[1.08,-0.36],[1.3,-0.15],[1.7,0.11],[1.85,0.0],[2.16,-0.83],[2.52,-0.22],[2.88,-0.42],[3.05,0.0],[3.39,0.5],[3.55,0.2],[3.85,0.7],[4.12,1.05],[4.55,0.3],[4.8,-0.1],[5.12,-0.3],[5.4,-0.15],[5.6,-0.1],[5.85,0.08],[6.1,0.0],[6.4,0.05],[6.6,0.0],[6.85,0.2],[7.15,0.0],[7.45,0.05],[7.7,-0.05],[8.05,0.0],[8.55,0.15],[8.9,0.3],[9.3,0.15],[9.74,0.75],[10,0.1]],
        // LDS
        [[0,-0.15],[0.3,0.05],[0.6,0.05],[0.98,-0.28],[1.3,-0.05],[1.5,-0.1],[1.8,0.0],[2.12,-0.65],[2.35,-0.25],[2.65,-0.07],[2.9,-0.15],[3.1,-0.1],[3.37,0.32],[3.7,0.0],[3.95,0.3],[4.2,0.67],[4.55,0.35],[4.8,-0.15],[5.15,-0.36],[5.4,-0.2],[5.7,0.05],[6.1,-0.2],[6.5,-0.05],[6.9,0.05],[7.05,-0.05],[7.3,0.1],[7.6,0.0],[8.0,0.05],[8.3,0.0],[8.85,0.34],[9.25,0.05],[9.76,0.54],[10,0.25]],
        // LCV
        [[0,0.05],[0.29,0.36],[0.6,0.0],[0.85,-0.15],[1.06,-0.47],[1.3,-0.05],[1.7,0.0],[1.85,-0.05],[2.13,-0.79],[2.4,-0.3],[2.64,-0.07],[2.97,-0.3],[3.1,0.0],[3.41,0.54],[3.6,0.2],[3.9,0.5],[4.24,0.93],[4.6,0.5],[4.9,-0.1],[5.16,-0.98],[5.5,-0.3],[5.8,0.0],[6.1,-0.2],[6.5,0.0],[6.8,0.1],[7.0,0.0],[7.3,0.1],[7.55,0.0],[7.8,-0.1],[8.2,0.05],[8.8,0.3],[9.2,0.1],[9.76,0.77],[10,0.05]],
        // DCV
        [[0,0.0],[0.3,0.36],[0.6,0.0],[0.75,-0.1],[1.1,-0.5],[1.4,-0.05],[1.7,0.05],[1.9,0.0],[2.2,-0.87],[2.5,-0.2],[2.7,-0.05],[3.0,-0.29],[3.2,0.0],[3.45,0.56],[3.7,0.2],[4.0,0.5],[4.26,0.78],[4.5,0.5],[4.9,0.0],[5.23,-0.9],[5.55,-0.2],[5.75,0.0],[6.0,0.05],[6.15,-0.12],[6.5,0.05],[6.8,0.0],[7.0,0.05],[7.3,0.1],[7.55,0.0],[7.97,-0.18],[8.5,0.1],[8.86,0.36],[9.4,0.1],[9.85,0.7],[10,0.1]]
    ];

    // ---------------- layout ----------------
    const colX = [95, 386, 677, 968, 1259, 1550];   // left edge of plot area
    const plotW = 220, plotH = 161;
    const PL = 44, PR = 16, PT = 10, PB = 36;       // canvas margins round the plot area
    const axisColor = '#3c3c3c';
    const fontFam = '"Liberation Sans", Arial, Helvetica, sans-serif';

    const rows = [
        { top: 97,  lim: 2, bounds: srtBounds, actual: srtVxActual, lin: srtVxLinear, lstm: srtVxLstm, v: 'X', titles: true },
        { top: 327, lim: 2, bounds: srtBounds, actual: srtVyActual, lin: srtVyLinear, lstm: srtVyLstm, v: 'Y', titles: false },
        { top: 666, lim: 1, bounds: crtBounds, actual: crtVxActual, lin: crtVxLinear, lstm: crtVxLstm, v: 'X', titles: true },
        { top: 896, lim: 1, bounds: crtBounds, actual: crtVyActual, lin: crtVyLinear, lstm: crtVyLstm, v: 'Y', titles: false }
    ];

    // trial boundaries + inward MATLAB-style ticks
    const boundsPlugin = {
        id: 'trialBounds',
        beforeDatasetsDraw(chart, args, opts) {
            const { ctx, chartArea: a, scales: { x, y } } = chart;
            ctx.save();
            ctx.strokeStyle = 'rgba(150,150,150,0.8)';
            ctx.lineWidth = 1;
            opts.times.forEach(t => {
                const px = Math.round(x.getPixelForValue(t)) + 0.5;
                ctx.beginPath();
                ctx.moveTo(px, a.top);
                ctx.lineTo(px, a.bottom);
                ctx.stroke();
            });
            ctx.strokeStyle = axisColor;
            x.ticks.forEach(tk => {
                const px = Math.round(x.getPixelForValue(tk.value)) + 0.5;
                ctx.beginPath();
                ctx.moveTo(px, a.bottom);
                ctx.lineTo(px, a.bottom - 3);
                ctx.stroke();
            });
            y.ticks.forEach(tk => {
                const py = Math.round(y.getPixelForValue(tk.value)) + 0.5;
                ctx.beginPath();
                ctx.moveTo(a.left, py);
                ctx.lineTo(a.left + 3, py);
                ctx.stroke();
            });
            ctx.restore();
        }
    };

    const toXY = arr => arr.map(p => ({ x: p[0], y: p[1] }));

    function addText(cls, html, left, top) {
        const d = document.createElement('div');
        d.className = cls;
        d.innerHTML = html;
        d.style.left = left + 'px';
        d.style.top = top + 'px';
        document.body.appendChild(d);
    }

    rows.forEach(row => {
        methods.forEach((m, c) => {
            const box = document.createElement('div');
            box.className = 'box';
            box.style.left = (colX[c] - PL) + 'px';
            box.style.top = (row.top - PT) + 'px';
            const cv = document.createElement('canvas');
            cv.width = plotW + PL + PR;
            cv.height = plotH + PT + PB;
            box.appendChild(cv);
            document.body.appendChild(box);

            const smooth = c === 0 ? { tension: 0 } : { cubicInterpolationMode: 'monotone' };

            new Chart(cv, {
                type: 'line',
                data: {
                    datasets: [
                        Object.assign({ label: 'LSTM-RNN', data: toXY(row.lstm[c]), borderColor: '#0000ff', borderWidth: 1.9, order: 0 }, smooth),
                        Object.assign({ label: 'Linear model', data: toXY(row.lin[c]), borderColor: '#ff0000', borderWidth: 1.9, order: 1 }, smooth),
                        { label: 'Actual', data: toXY(row.actual), borderColor: '#9a9a9a', borderWidth: 1.8, order: 2, cubicInterpolationMode: 'monotone' }
                    ]
                },
                options: {
                    responsive: false,
                    animation: false,
                    events: [],
                    layout: { autoPadding: false, padding: { top: PT, right: PR, left: 0, bottom: 0 } },
                    elements: { point: { radius: 0 }, line: { borderJoinStyle: 'round' } },
                    plugins: {
                        legend: { display: false },
                        tooltip: { enabled: false },
                        trialBounds: { times: row.bounds }
                    },
                    scales: {
                        x: {
                            type: 'linear', min: 0, max: 10,
                            grid: { display: false, drawTicks: false },
                            border: { display: true, color: axisColor, width: 1 },
                            ticks: { stepSize: 5, padding: 10, maxRotation: 0, color: '#262626', font: { size: 17, family: fontFam } },
                            afterFit: s => { s.height = PB; }
                        },
                        y: {
                            type: 'linear', min: -row.lim, max: row.lim,
                            grid: { display: false, drawTicks: false },
                            border: { display: true, color: axisColor, width: 1 },
                            ticks: { stepSize: row.lim, padding: 7, color: '#262626', font: { size: 17, family: fontFam } },
                            afterFit: s => { s.width = PL; }
                        }
                    }
                },
                plugins: [boundsPlugin]
            });

            if (row.titles) {
                addText('ttl', 'Z<span class="sb">' + m + '</span>', colX[c] + plotW / 2, row.top - 30);
            }
        });
        addText('vlab', 'V<span class="sb">' + row.v + '</span>', 40, row.top + plotH / 2);
    });
</script>
</body>
</html>
